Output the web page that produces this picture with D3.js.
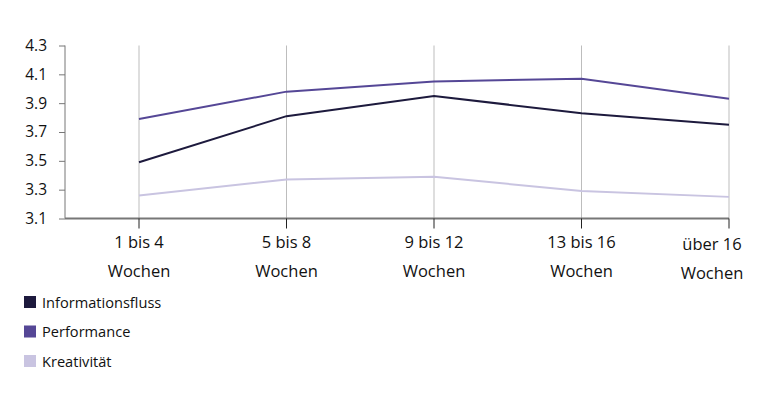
<!DOCTYPE html>
<html><head><meta charset="utf-8">
<script src="https://cdn.jsdelivr.net/npm/d3@7"></script>
<style>body{margin:0;background:#fff}svg{display:block;font-family:"Open Sans",sans-serif}</style>
</head><body><svg id="c" width="766" height="395"></svg>
<script>
const categories = [["1 bis 4","Wochen"],["5 bis 8","Wochen"],["9 bis 12","Wochen"],["13 bis 16","Wochen"],["über 16","Wochen"]];
const seriesNames = ["Informationsfluss","Performance","Kreativität"];
const informationsfluss = [3.49, 3.81, 3.95, 3.83, 3.75];
const performance = [3.79, 3.98, 4.05, 4.07, 3.93];
const kreativitaet = [3.26, 3.37, 3.39, 3.29, 3.25];
const yTicks = [3.1, 3.3, 3.5, 3.7, 3.9, 4.1, 4.3];
const colors = ["#1d1a3d", "#554796", "#c9c4e1"];

const svg = d3.select("#c");
const x = d3.scalePoint().domain(d3.range(categories.length)).range([139, 729]);
const y = d3.scaleLinear().domain([3.1, 4.3]).range([218.5, 45.5]);
const x0 = 65;

// gridlines
svg.append("g").selectAll("line").data(d3.range(categories.length)).join("line")
  .attr("x1", d => x(d)).attr("x2", d => x(d)).attr("y1", y(4.3)).attr("y2", y(3.1))
  .attr("stroke", "#bdbdbd").attr("stroke-width", 1);

// y axis
const ya = svg.append("g").attr("transform", `translate(${x0},0)`)
  .call(d3.axisLeft(y).tickValues(yTicks).tickSize(6).tickPadding(12).tickFormat(d3.format(".1f")));
ya.select(".domain").attr("stroke", "#777").attr("d", `M0,${y(4.3)}V${y(3.1)}`);
ya.selectAll(".tick line").attr("stroke", "#777");
ya.selectAll(".tick text").attr("font-size", 15.5).attr("fill", "#111").attr("font-family", "Open Sans");

// x axis line
svg.append("line").attr("x1", x0).attr("x2", x(4)).attr("y1", y(3.1)).attr("y2", y(3.1))
  .attr("stroke", "#777").attr("stroke-width", 2);
svg.append("g").selectAll("line").data(d3.range(categories.length)).join("line")
  .attr("x1", d => x(d)).attr("x2", d => x(d)).attr("y1", y(3.1)).attr("y2", y(3.1) + 10)
  .attr("stroke", "#222").attr("stroke-width", 1);

// x labels
const lx = i => Math.min(x(i), 712);
const xl = svg.append("g").selectAll("text").data(categories).join("text")
  .attr("text-anchor", "middle").attr("font-size", 16.5).attr("fill", "#111")
  .attr("x", (d, i) => lx(i))
  .attr("y", (d, i) => i === 4 ? 250 : 248);
xl.append("tspan").text(d => d[0]);
xl.append("tspan").attr("x", (d, i) => lx(i)).attr("dy", 29).text(d => d[1]);

// lines
const series = [informationsfluss, performance, kreativitaet];
const line = d3.line().x((d, i) => x(i)).y(d => y(d));
svg.append("g").selectAll("path").data(series).join("path")
  .attr("d", line).attr("fill", "none")
  .attr("stroke", (d, i) => colors[i]).attr("stroke-width", 2);

// legend
const lg = svg.append("g").selectAll("g").data(seriesNames).join("g")
  .attr("transform", (d, i) => `translate(24,${296 + i * 29.5})`);
lg.append("rect").attr("width", 12).attr("height", 12).attr("fill", (d, i) => colors[i]);
lg.append("text").attr("x", 18).attr("y", 11.5).attr("font-size", 14.6).attr("fill", "#111").text(d => d);
</script></body></html>
